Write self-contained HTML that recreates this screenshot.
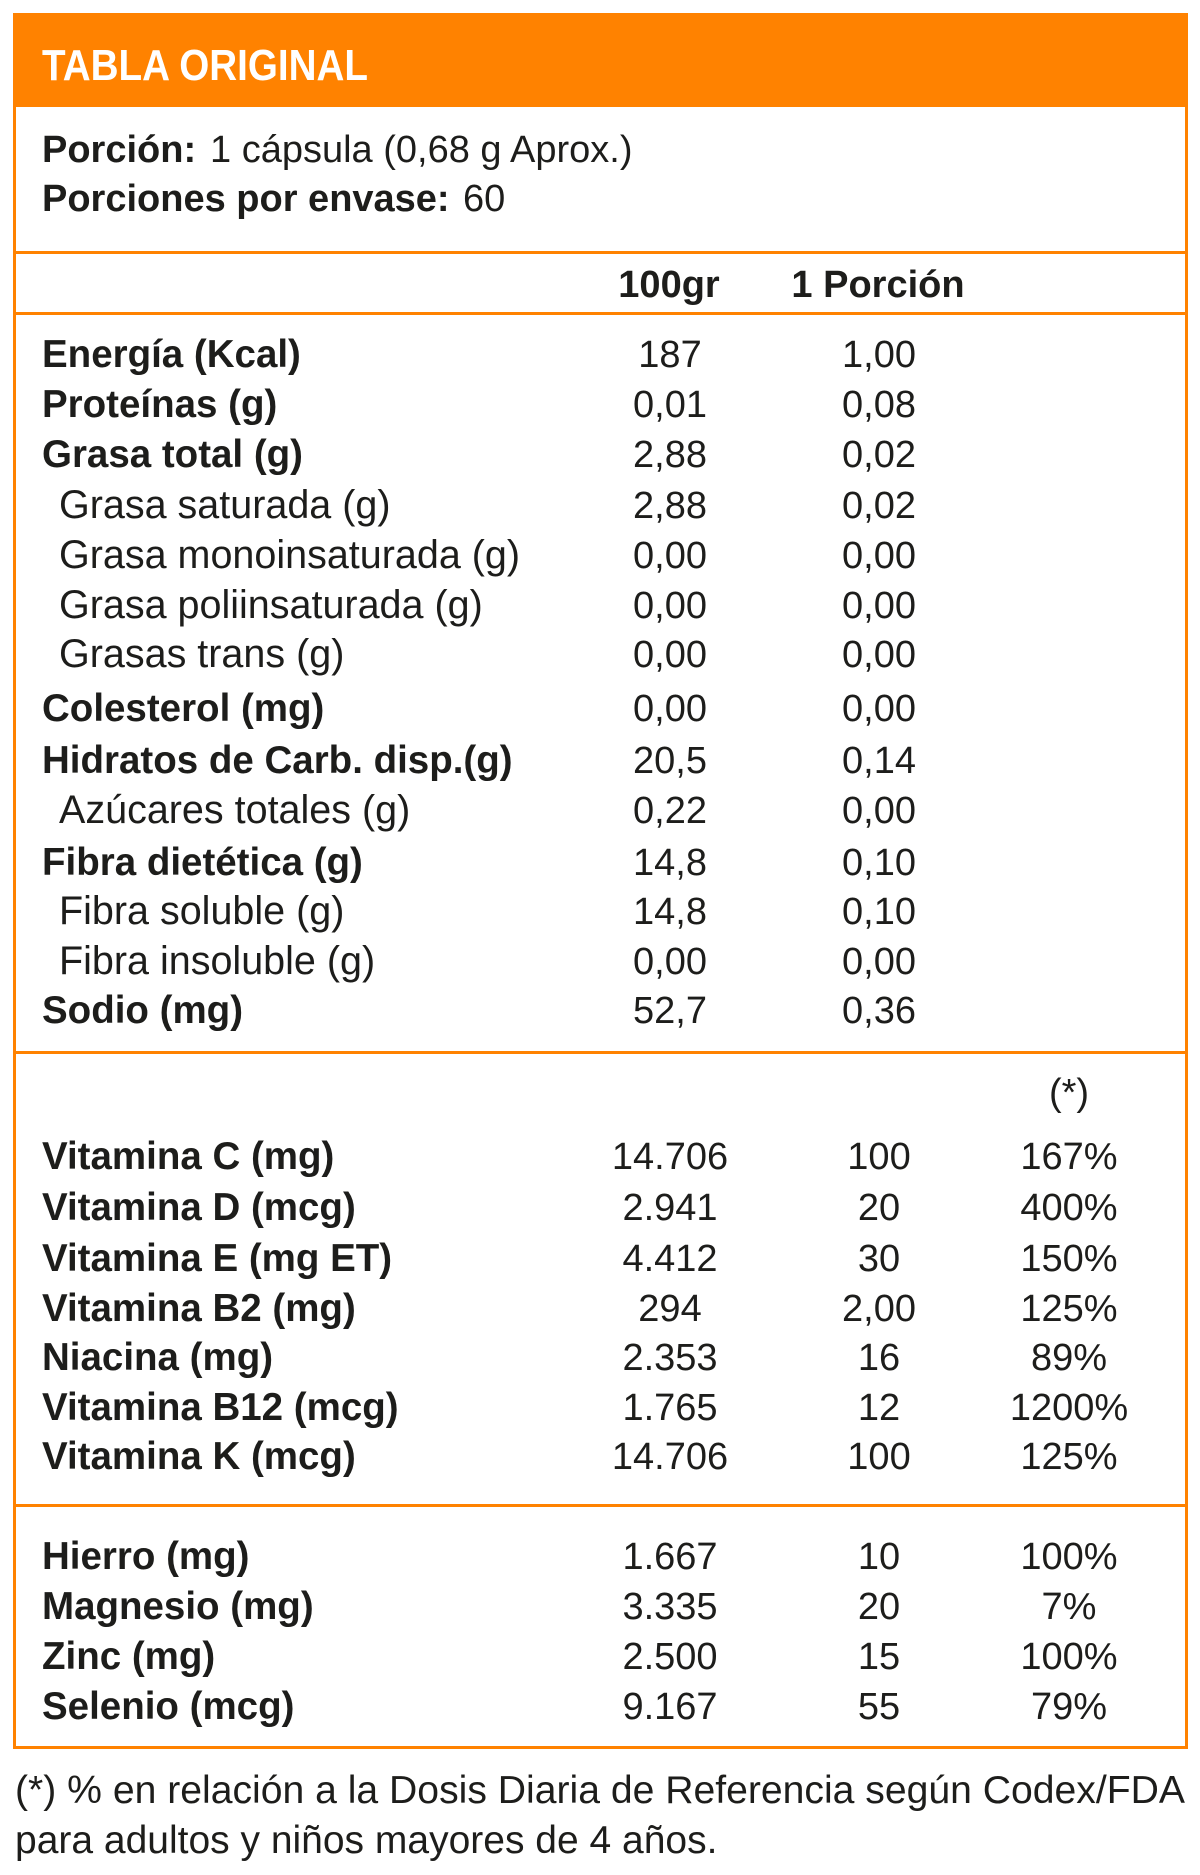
<!DOCTYPE html>
<html>
<head>
<meta charset="utf-8">
<style>
  html, body { margin: 0; padding: 0; background: #ffffff; }
  body { width: 1200px; height: 1875px; overflow: hidden; }
  svg { display: block; }
  text { font-family: "Liberation Sans", Arial, sans-serif; fill: #1d1d1b; font-size: 38px; }
  .b { font-weight: bold; }
  .lb { font-weight: bold; font-size: 38.5px; }
  .li { font-size: 39.5px; }
  .c { text-anchor: middle; }
</style>
</head>
<body>
<svg width="1200" height="1875" viewBox="0 0 1200 1875" xmlns="http://www.w3.org/2000/svg">
  <!-- header -->
  <rect x="13" y="13" width="1175" height="94" fill="#FF8200"/>
  <text x="42" y="80" class="b" style="font-size:44px;fill:#ffffff" textLength="326" lengthAdjust="spacingAndGlyphs">TABLA ORIGINAL</text>

  <!-- outer box -->
  <rect x="14.5" y="14.5" width="1172" height="1733" fill="none" stroke="#FF8200" stroke-width="3"/>

  <!-- separators -->
  <rect x="13" y="251" width="1175" height="3" fill="#FF8200"/>
  <rect x="13" y="312" width="1175" height="3" fill="#FF8200"/>
  <rect x="13" y="1051" width="1175" height="3" fill="#FF8200"/>
  <rect x="13" y="1504" width="1175" height="3" fill="#FF8200"/>

  <!-- serving info -->
  <text x="42" y="162"><tspan class="b">Porción:</tspan><tspan x="210">1 cápsula (0,68 g Aprox.)</tspan></text>
  <text x="42" y="211"><tspan class="b">Porciones por envase:</tspan><tspan x="463">60</tspan></text>

  <!-- column headers -->
  <text x="669" y="297" class="b c">100gr</text>
  <text x="878" y="297" class="b c">1 Porción</text>

  <!-- nutrients -->
  <text x="42" y="367" class="lb">Energía (Kcal)</text>
  <text x="670" y="367" class="c">187</text><text x="879" y="367" class="c">1,00</text>

  <text x="42" y="417" class="lb">Proteínas (g)</text>
  <text x="670" y="417" class="c">0,01</text><text x="879" y="417" class="c">0,08</text>

  <text x="42" y="467" class="lb">Grasa total (g)</text>
  <text x="670" y="467" class="c">2,88</text><text x="879" y="467" class="c">0,02</text>

  <text x="59" y="518" class="li">Grasa saturada (g)</text>
  <text x="670" y="518" class="c">2,88</text><text x="879" y="518" class="c">0,02</text>

  <text x="59" y="568" class="li">Grasa monoinsaturada (g)</text>
  <text x="670" y="568" class="c">0,00</text><text x="879" y="568" class="c">0,00</text>

  <text x="59" y="618" class="li">Grasa poliinsaturada (g)</text>
  <text x="670" y="618" class="c">0,00</text><text x="879" y="618" class="c">0,00</text>

  <text x="59" y="667" class="li">Grasas trans (g)</text>
  <text x="670" y="667" class="c">0,00</text><text x="879" y="667" class="c">0,00</text>

  <text x="42" y="721" class="lb">Colesterol (mg)</text>
  <text x="670" y="721" class="c">0,00</text><text x="879" y="721" class="c">0,00</text>

  <text x="42" y="773" class="lb">Hidratos de Carb. disp.(g)</text>
  <text x="670" y="773" class="c">20,5</text><text x="879" y="773" class="c">0,14</text>

  <text x="59" y="823" class="li">Azúcares totales (g)</text>
  <text x="670" y="823" class="c">0,22</text><text x="879" y="823" class="c">0,00</text>

  <text x="42" y="875" class="lb">Fibra dietética (g)</text>
  <text x="670" y="875" class="c">14,8</text><text x="879" y="875" class="c">0,10</text>

  <text x="59" y="924" class="li">Fibra soluble (g)</text>
  <text x="670" y="924" class="c">14,8</text><text x="879" y="924" class="c">0,10</text>

  <text x="59" y="974" class="li">Fibra insoluble (g)</text>
  <text x="670" y="974" class="c">0,00</text><text x="879" y="974" class="c">0,00</text>

  <text x="42" y="1023" class="lb">Sodio (mg)</text>
  <text x="670" y="1023" class="c">52,7</text><text x="879" y="1023" class="c">0,36</text>

  <!-- vitamins -->
  <text x="1069" y="1105" class="c">(*)</text>

  <text x="42" y="1169" class="lb">Vitamina C (mg)</text>
  <text x="670" y="1169" class="c">14.706</text><text x="879" y="1169" class="c">100</text><text x="1069" y="1169" class="c">167%</text>

  <text x="42" y="1220" class="lb">Vitamina D (mcg)</text>
  <text x="670" y="1220" class="c">2.941</text><text x="879" y="1220" class="c">20</text><text x="1069" y="1220" class="c">400%</text>

  <text x="42" y="1271" class="lb">Vitamina E (mg ET)</text>
  <text x="670" y="1271" class="c">4.412</text><text x="879" y="1271" class="c">30</text><text x="1069" y="1271" class="c">150%</text>

  <text x="42" y="1321" class="lb">Vitamina B2 (mg)</text>
  <text x="670" y="1321" class="c">294</text><text x="879" y="1321" class="c">2,00</text><text x="1069" y="1321" class="c">125%</text>

  <text x="42" y="1370" class="lb">Niacina (mg)</text>
  <text x="670" y="1370" class="c">2.353</text><text x="879" y="1370" class="c">16</text><text x="1069" y="1370" class="c">89%</text>

  <text x="42" y="1420" class="lb">Vitamina B12 (mcg)</text>
  <text x="670" y="1420" class="c">1.765</text><text x="879" y="1420" class="c">12</text><text x="1069" y="1420" class="c">1200%</text>

  <text x="42" y="1469" class="lb">Vitamina K (mcg)</text>
  <text x="670" y="1469" class="c">14.706</text><text x="879" y="1469" class="c">100</text><text x="1069" y="1469" class="c">125%</text>

  <!-- minerals -->
  <text x="42" y="1569" class="lb">Hierro (mg)</text>
  <text x="670" y="1569" class="c">1.667</text><text x="879" y="1569" class="c">10</text><text x="1069" y="1569" class="c">100%</text>

  <text x="42" y="1619" class="lb">Magnesio (mg)</text>
  <text x="670" y="1619" class="c">3.335</text><text x="879" y="1619" class="c">20</text><text x="1069" y="1619" class="c">7%</text>

  <text x="42" y="1669" class="lb">Zinc (mg)</text>
  <text x="670" y="1669" class="c">2.500</text><text x="879" y="1669" class="c">15</text><text x="1069" y="1669" class="c">100%</text>

  <text x="42" y="1719" class="lb">Selenio (mcg)</text>
  <text x="670" y="1719" class="c">9.167</text><text x="879" y="1719" class="c">55</text><text x="1069" y="1719" class="c">79%</text>

  <!-- footnote -->
  <text x="15" y="1803" style="font-size:39px" textLength="1170" lengthAdjust="spacingAndGlyphs">(*) % en relación a la Dosis Diaria de Referencia según Codex/FDA</text>
  <text x="15" y="1853" style="font-size:39px">para adultos y niños mayores de 4 años.</text>
</svg>
</body>
</html>
